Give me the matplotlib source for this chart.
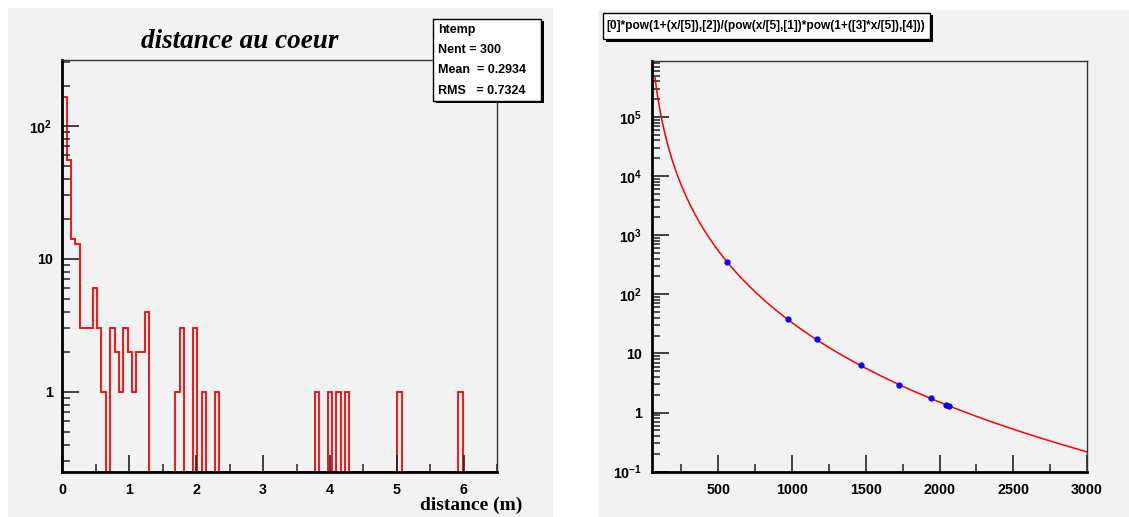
import numpy as np
import matplotlib
matplotlib.use('Agg')
import matplotlib.pyplot as plt
from matplotlib.patches import Rectangle
from matplotlib.ticker import LogLocator, MultipleLocator, FuncFormatter, NullFormatter
from matplotlib import font_manager

# left panel: histogram of the distance, 100 bins from 0 to 6.5 m
hist_edges = np.linspace(0, 6.5, 101)
hist_counts = [164, 55, 14, 13, 3, 3, 3, 6, 3, 1,
               0, 3, 2, 1, 3, 2, 1, 2, 2, 4,
               0, 0, 0, 0, 0, 0, 1, 3, 0, 0,
               3, 0, 1, 0, 0, 1, 0, 0, 0, 0,
               0, 0, 0, 0, 0, 0, 0, 0, 0, 0,
               0, 0, 0, 0, 0, 0, 0, 0, 1, 0,
               0, 1, 0, 1, 0, 1, 0, 0, 0, 0,
               0, 0, 0, 0, 0, 0, 0, 1, 0, 0,
               0, 0, 0, 0, 0, 0, 0, 0, 0, 0,
               0, 1, 0, 0, 0, 0, 0, 0, 0, 0]
stats_lines = ["htemp", "Nent = 300", "Mean  = 0.2934", "RMS   = 0.7324"]

# right panel: graph points and the fitted function
graph_x = [558, 971, 1167, 1466, 1727, 1939, 2047, 2061]
graph_y = [356, 38.2, 17.5, 6.4, 2.98, 1.75, 1.35, 1.31]
fit_formula = "[0]*pow(1+(x/[5]),[2])/(pow(x/[5],[1])*pow(1+([3]*x/[5]),[4]))"
fit_par = [187.0, 3.0, 1.0, 1.0, 3.5, 1000.0]
fit_range = (70, 3000)


def fit_func(x, p):
    return p[0] * (1 + x / p[5]) ** p[2] / ((x / p[5]) ** p[1] * (1 + p[3] * x / p[5]) ** p[4])


# pick a narrow sans font if there is one (ROOT labels look condensed)
names = {f.name for f in font_manager.fontManager.ttflist}
NARROW = 'Liberation Sans Narrow' in names
sans = 'Liberation Sans Narrow' if NARROW else 'Liberation Sans'
tick_size = 11.5 if NARROW else 10.3

plt.rcParams['font.family'] = [sans, 'DejaVu Sans']
plt.rcParams['font.weight'] = 'bold'
plt.rcParams['mathtext.fontset'] = 'custom'
plt.rcParams['mathtext.bf'] = sans + ':bold'
plt.rcParams['mathtext.rm'] = sans + ':bold'

W, H = 1129, 517
fig = plt.figure(figsize=(W / 100, H / 100), dpi=100)
fig.patch.set_facecolor('white')


def fx(x):
    return x / W


def fy(y):
    return 1 - y / H


def panel(x0, y0, x1, y1):
    fig.add_artist(Rectangle((fx(x0), fy(y1)), (x1 - x0) / W, (y1 - y0) / H,
                             transform=fig.transFigure, facecolor='#f2f2f2',
                             edgecolor='none', zorder=-1))


def shadow_box(x0, y0, x1, y1, off=2.5):
    fig.add_artist(Rectangle((fx(x0 + off), fy(y1 + off)), (x1 - x0) / W, (y1 - y0) / H,
                             transform=fig.transFigure, facecolor='black',
                             edgecolor='none', zorder=5))
    fig.add_artist(Rectangle((fx(x0), fy(y1)), (x1 - x0) / W, (y1 - y0) / H,
                             transform=fig.transFigure, facecolor='white',
                             edgecolor='black', lw=1, zorder=6))


def log_labeler(lo, hi):
    # ROOT style: 1, 10, then 10^n; nothing outside the axis range
    def label(v, pos):
        if v < lo * 0.999 or v > hi * 1.001:
            return ''
        e = int(round(np.log10(v)))
        if e == 0:
            return '1'
        if e == 1:
            return '10'
        return r'$\mathbf{10^{%d}}$' % e
    return FuncFormatter(label)


def root_style(ax, ylo, yhi):
    ax.set_facecolor('#f2f2f2')
    for s in ['left', 'bottom']:
        ax.spines[s].set_linewidth(2)
        ax.spines[s].set_color('black')
    for s in ['top', 'right']:
        ax.spines[s].set_linewidth(1)
        ax.spines[s].set_color('#333333')
    ax.tick_params(which='major', direction='in', length=12, width=1.2,
                   color='#222222', labelsize=tick_size, pad=8)
    ax.tick_params(which='minor', direction='in', length=6, width=1.1, color='#222222')
    ax.tick_params(axis='y', pad=7)
    ax.yaxis.set_major_locator(LogLocator(base=10))
    ax.yaxis.set_minor_locator(LogLocator(base=10, subs=np.arange(2, 10)))
    ax.yaxis.set_major_formatter(log_labeler(ylo, yhi))
    ax.yaxis.set_minor_formatter(NullFormatter())


panel(8, 8, 553, 517)
panel(598, 10, 1129, 517)

# ---- left: histogram ----
ax1 = fig.add_axes([fx(62.3), fy(471.7), (497.3 - 62.3) / W, (471.7 - 60) / H])
y_floor = 0.25
ax1.set_yscale('log')
ax1.stairs(np.maximum(hist_counts, y_floor), hist_edges, baseline=y_floor,
           color='red', lw=1.3)
ax1.set_xlim(0, 6.5)
ax1.set_ylim(y_floor, 312)
root_style(ax1, y_floor, 312)
ax1.xaxis.set_major_locator(MultipleLocator(1))
ax1.xaxis.set_minor_locator(MultipleLocator(0.5))

fig.text(fx(240), fy(41), 'distance au coeur', family='Liberation Serif',
         weight='bold', style='italic', size=19.5, ha='center', va='center')
fig.text(fx(522), fy(510), 'distance (m)', family='Liberation Serif',
         weight='bold', size=14, ha='right', va='baseline')

shadow_box(433, 19, 541, 100.5)
for i, line in enumerate(stats_lines):
    fig.text(fx(438), fy(30 + i * 20.2), line, size=10 if NARROW else 9,
             ha='left', va='center', zorder=7)

# ---- right: graph with fit ----
ax2 = fig.add_axes([fx(652), fy(471.7), (1087 - 652) / W, (471.7 - 60.7) / H])
ax2.set_yscale('log')
xf = np.linspace(fit_range[0], fit_range[1], 800)
ax2.plot(xf, fit_func(xf, fit_par), color='red', lw=1.1)
ax2.plot(graph_x, graph_y, 'o', color='blue', ms=3.5, mec='blue', zorder=3)
ax2.set_xlim(50, 3000)
ax2.set_ylim(0.1, 8.9e5)
root_style(ax2, 0.1, 8.9e5)
ax2.xaxis.set_major_locator(MultipleLocator(500))
ax2.xaxis.set_minor_locator(MultipleLocator(250))

shadow_box(603, 12.5, 930, 39)
fig.text(fx(606), fy(26), fit_formula, size=10 if NARROW else 8.6,
         ha='left', va='center', zorder=7)

fig.savefig('out.png', dpi=100)
